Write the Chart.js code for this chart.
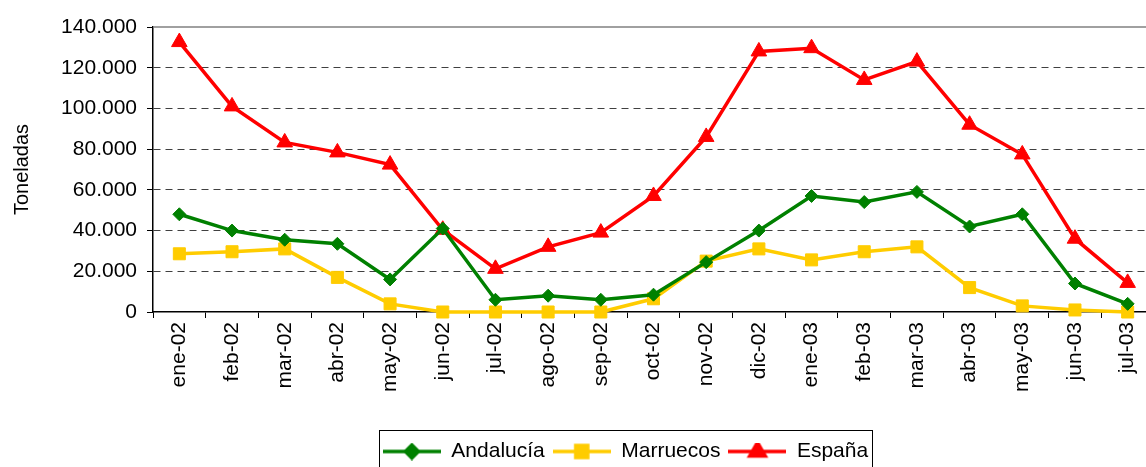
<!DOCTYPE html>
<html>
<head>
<meta charset="utf-8">
<script src="https://cdn.jsdelivr.net/npm/chart.js@4.4.1/dist/chart.umd.min.js"></script>
<style>
  html, body { margin: 0; padding: 0; background: #fff; }
  #wrap { width: 1146px; height: 467px; }
</style>
</head>
<body>
<div id="wrap"><canvas id="toneladasChart" width="1146" height="467"></canvas></div>
<script>
const meses = ["ene-02", "feb-02", "mar-02", "abr-02", "may-02", "jun-02", "jul-02", "ago-02", "sep-02", "oct-02",
    "nov-02", "dic-02", "ene-03", "feb-03", "mar-03", "abr-03", "may-03", "jun-03", "jul-03"]
const andalucia = [48000, 40000, 35500, 33500, 16000, 41000, 6000, 8000, 6000, 8500,
    24500, 40000, 57000, 54000, 59000, 42000, 48000, 14000, 4000]
const marruecos = [28600, 29600, 31000, 17000, 4000, 0, 0, 0, 0, 6500,
    25000, 31000, 25600, 29600, 32000, 12000, 3000, 1000, 0]
const espana = [132600, 101000, 83300, 78400, 72400, 40400, 21200, 32000, 39000, 57000,
    86000, 128000, 129600, 114000, 123000, 92000, 77400, 36000, 14300]
const yTicks = [0, 20000, 40000, 60000, 80000, 100000, 120000, 140000]

const FONT = "'Liberation Sans', Arial, sans-serif"

function miles(v) {
    return String(v).replace(/\B(?=(\d{3})+(?!\d))/g, ".")
}

// small line + marker picture for each legend entry
function muestra(color, estilo, radio) {
    let c = document.createElement("canvas")
    c.width = 58
    c.height = 18
    let g = c.getContext("2d")
    g.strokeStyle = color
    g.lineWidth = 3.5
    g.beginPath()
    g.moveTo(0, 9)
    g.lineTo(58, 9)
    g.stroke()
    Chart.helpers.drawPoint(g, { pointStyle: estilo, radius: radio, borderWidth: 1 }, 29, 9)
    g.fillStyle = color
    g.fill()
    return c
}

const series = [
    { label: "Andalucía", data: andalucia, color: "#008000", estilo: "rectRot", radio: 6.5 },
    { label: "Marruecos", data: marruecos, color: "#FFCC00", estilo: "rect", radio: 8.5 },
    { label: "España", data: espana, color: "#FF0000", estilo: "triangle", radio: 9 },
]

const marcoLeyenda = {
    id: "marcoLeyenda",
    afterLayout(chart) {
        chart.legend.left += 52.5
        chart.legend.right += 52.5
        chart.legend.top += 5
        chart.legend.bottom += 5
        // the plot runs a few pixels past the right edge of the picture
        let x = chart.scales.x
        x.right += 8
        x.width += 8
        x.configure()
        chart.chartArea.right += 8
        chart.chartArea.width += 8
    },
    afterDraw(chart) {
        let cajas = chart.legend.legendHitBoxes
        if (!cajas || !cajas.length) return
        let ctx = chart.ctx
        let izq = cajas[0].left - 4
        let der = cajas[cajas.length - 1].left + cajas[cajas.length - 1].width + 4
        let arriba = cajas[0].top - 11
        ctx.save()
        ctx.strokeStyle = "#000"
        ctx.lineWidth = 1
        ctx.strokeRect(Math.round(izq) + 0.5, Math.round(arriba) + 0.5, Math.round(der - izq), 60)
        // solid top border of the plot
        let a = chart.chartArea
        ctx.strokeStyle = "#808080"
        ctx.lineWidth = 1.5
        ctx.beginPath()
        ctx.moveTo(a.left, a.top)
        ctx.lineTo(a.right, a.top)
        ctx.stroke()
        ctx.restore()
    },
}

let ctx = document.getElementById("toneladasChart").getContext("2d")
new Chart(ctx, {
    type: "line",
    data: {
        labels: meses,
        datasets: series.map(s => ({
            label: s.label,
            data: s.data,
            borderColor: s.color,
            backgroundColor: s.color,
            borderWidth: 3.5,
            pointStyle: s.estilo,
            pointRadius: s.radio,
            pointBorderWidth: 1,
            pointHoverRadius: s.radio,
            tension: 0,
            fill: false,
            clip: false,
        })),
    },
    plugins: [marcoLeyenda],
    options: {
        responsive: false,
        animation: false,
        layout: { autoPadding: false, padding: { top: 27, left: 0, right: 0, bottom: 0 } },
        plugins: {
            tooltip: { enabled: false },
            legend: {
                position: "bottom",
                labels: {
                    color: "#000",
                    font: { family: FONT, size: 21 },
                    usePointStyle: true,
                    pointStyleWidth: 58,
                    padding: 8,
                    generateLabels: () => series.map((s, i) => ({
                        text: s.label,
                        datasetIndex: i,
                        pointStyle: muestra(s.color, s.estilo, s.radio),
                        fillStyle: s.color,
                        strokeStyle: s.color,
                        lineWidth: 0,
                        hidden: false,
                    })),
                },
            },
        },
        scales: {
            x: {
                offset: true,
                grid: { offset: true, drawOnChartArea: false, drawTicks: true, tickLength: 6, tickColor: "#000" },
                border: { color: "#000", width: 1.5 },
                ticks: {
                    color: "#000",
                    font: { family: FONT, size: 21 },
                    maxRotation: 90,
                    minRotation: 90,
                    padding: 4,
                    autoSkip: false,
                },
                afterFit(scale) {
                    scale.height = 116
                    scale.paddingLeft = 0
                    scale.paddingRight = 0
                },
            },
            y: {
                min: 0,
                max: 140000,
                afterBuildTicks(scale) { scale.ticks = yTicks.map(v => ({ value: v })) },
                grid: {
                    color: c => (c.tick && (c.tick.value === 140000 || c.tick.value === 0)) ? "rgba(0,0,0,0)" : "#404040",
                    lineWidth: 1,
                    tickLength: 6,
                    tickColor: "#000",
                },
                border: { color: "#000", width: 1.5, dash: [7, 5] },
                ticks: {
                    color: "#000",
                    font: { family: FONT, size: 21 },
                    padding: 10,
                    callback: v => miles(v),
                },
                title: {
                    display: true,
                    text: "Toneladas",
                    color: "#000",
                    font: { family: FONT, size: 20 },
                    padding: { top: 10, bottom: 6 },
                },
                afterFit(scale) { scale.width = 153 },
            },
        },
    },
});
</script>
</body>
</html>
